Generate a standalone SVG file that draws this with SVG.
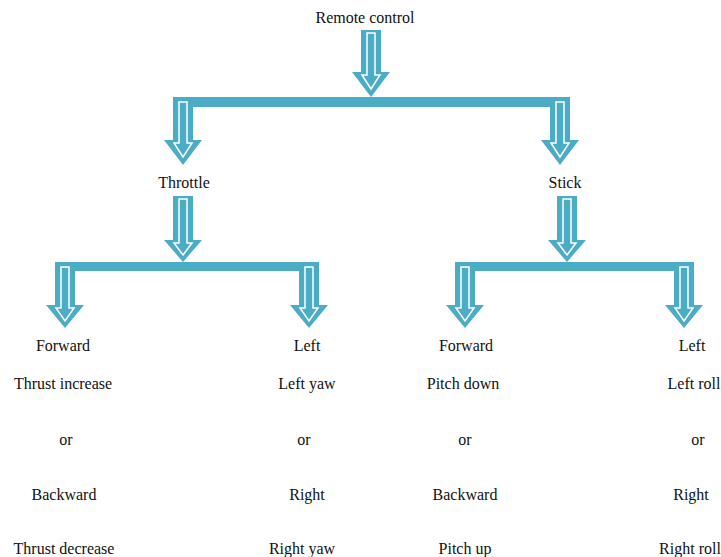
<svg xmlns="http://www.w3.org/2000/svg" width="721" height="557" viewBox="0 0 721 557">
<style>
.t{font-family:"Liberation Serif","Times New Roman",serif;font-size:16px;fill:#111;text-anchor:middle}
.o{fill:#4bacc6}
.i{fill:#4bacc6;stroke:#fff;stroke-width:1.5;stroke-linejoin:miter}
</style>
<rect width="721" height="557" fill="#fff"/>
<g id="connectors">
  <!-- top arrow -->
  <polygon class="o" points="361,30 381,30 381,72 390,72 371,97 352,72 361,72"/>
  <polygon class="i" points="367,33 375,33 375,75 380,75 371,89 362,75 367,75"/>
  <rect class="o" x="173" y="97" width="397" height="10"/>
  <polygon class="o" points="173,97 193,97 193,140 202,140 183,165 164,140 173,140"/>
  <polygon class="i" points="179,102 187,102 187,143 192,143 183,157 174,143 179,143"/>
  <polygon class="o" points="550,97 570,97 570,140 579,140 560,165 541,140 550,140"/>
  <polygon class="i" points="556,102 564,102 564,143 569,143 560,157 551,143 556,143"/>
  <!-- throttle -->
  <polygon class="o" points="173,196 193,196 193,240 202,240 183,262 164,240 173,240"/>
  <polygon class="i" points="179,199 187,199 187,243 192,243 183,255 174,243 179,243"/>
  <rect class="o" x="55" y="262" width="264" height="9"/>
  <polygon class="o" points="55,262 75,262 75,305 84,305 65,328 46,305 55,305"/>
  <polygon class="i" points="61,267 69,267 69,308 74,308 65,321 56,308 61,308"/>
  <polygon class="o" points="299,262 319,262 319,305 328,305 309,328 290,305 299,305"/>
  <polygon class="i" points="305,267 313,267 313,308 318,308 309,321 300,308 305,308"/>
  <!-- stick -->
  <polygon class="o" points="557,196 577,196 577,240 586,240 567,262 548,240 557,240"/>
  <polygon class="i" points="563,199 571,199 571,243 576,243 567,255 558,243 563,243"/>
  <rect class="o" x="455" y="262" width="239" height="9"/>
  <polygon class="o" points="455,262 475,262 475,305 484,305 465,328 446,305 455,305"/>
  <polygon class="i" points="461,267 469,267 469,308 474,308 465,321 456,308 461,308"/>
  <polygon class="o" points="674,262 694,262 694,305 703,305 684,328 665,305 674,305"/>
  <polygon class="i" points="680,267 688,267 688,308 693,308 684,321 675,308 680,308"/>
</g>
<g id="remote"><text class="t" x="365" y="23">Remote control</text></g>
<g id="throttle"><text class="t" x="184" y="188">Throttle</text></g>
<g id="stick"><text class="t" x="565" y="188">Stick</text></g>
<g id="throttle-forward">
  <text class="t" x="63" y="351">Forward</text>
  <text class="t" x="63" y="389">Thrust increase</text>
  <text class="t" x="66" y="445">or</text>
  <text class="t" x="64" y="500">Backward</text>
  <text class="t" x="64" y="554">Thrust decrease</text>
</g>
<g id="throttle-left">
  <text class="t" x="307" y="351">Left</text>
  <text class="t" x="307" y="389">Left yaw</text>
  <text class="t" x="304" y="445">or</text>
  <text class="t" x="307" y="500">Right</text>
  <text class="t" x="302" y="554">Right yaw</text>
</g>
<g id="stick-forward">
  <text class="t" x="466" y="351">Forward</text>
  <text class="t" x="463" y="389">Pitch down</text>
  <text class="t" x="465" y="445">or</text>
  <text class="t" x="465" y="500">Backward</text>
  <text class="t" x="465" y="554">Pitch up</text>
</g>
<g id="stick-left">
  <text class="t" x="692" y="351">Left</text>
  <text class="t" x="694" y="389">Left roll</text>
  <text class="t" x="698" y="445">or</text>
  <text class="t" x="691" y="500">Right</text>
  <text class="t" x="690" y="554">Right roll</text>
</g>
</svg>
